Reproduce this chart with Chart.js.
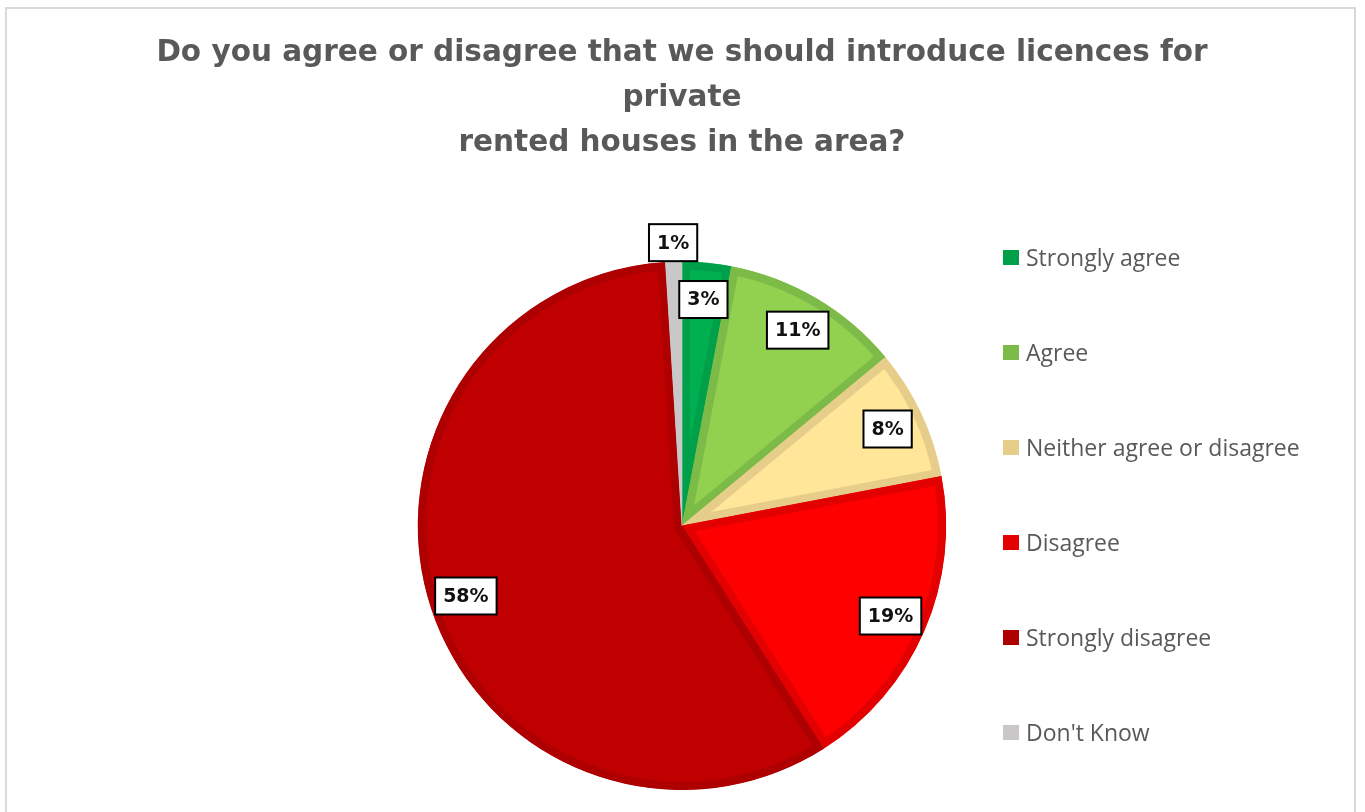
<!DOCTYPE html>
<html>
<head>
<meta charset="utf-8">
<title>Licences for private rented houses</title>
<script src="https://cdn.jsdelivr.net/npm/chart.js@4.4.0/dist/chart.umd.min.js"></script>
<style>
  html, body { margin: 0; padding: 0; background: #fff; }
  #wrap { position: relative; width: 1365px; height: 812px; overflow: hidden; }
  #pie { position: absolute; left: 0; top: 0; }
  #frame {
    position: absolute; left: 5px; top: 7px; width: 1351px; height: 840px;
    border: 2px solid #D9D9D9; pointer-events: none; box-sizing: border-box;
  }
  #legend { position: absolute; left: 1003px; top: 0; font-family: "Open Sans", sans-serif; }
  .item { position: absolute; left: 0; height: 30px; display: flex; align-items: center; white-space: nowrap; }
  .swatch { width: 16px; height: 15px; margin-right: 7px; }
  .item span { font-size: 23px; color: #595959; }
</style>
</head>
<body>
<div id="wrap">
  <canvas id="pie" width="1365" height="812"></canvas>
  <div id="frame"></div>
  <div id="legend"></div>
</div>
<script>
// Survey answers, percent of respondents
const answers = ["Strongly agree", "Agree", "Neither agree or disagree", "Disagree", "Strongly disagree", "Don't Know"];
const shares = [3, 11, 8, 19, 58, 1];

const fillColors = ["#00B050", "#92D050", "#FFE699", "#FF0000", "#C00000", "#D0CECE"];
const edgeColors = ["#00A04A", "#7DBB48", "#E6CE8A", "#E30000", "#AE0000", "#C9C7C7"];

const titleLines = [
  "Do you agree or disagree that we should introduce licences for",
  "private",
  "rented houses in the area?"
];

// Boxed percentage labels; tiny slices get their label pushed outside the pie
const boxedLabels = {
  id: "boxedLabels",
  afterDatasetsDraw(chart) {
    const ctx = chart.ctx;
    const meta = chart.getDatasetMeta(0);
    ctx.save();
    ctx.font = "bold 19px 'DejaVu Sans', sans-serif";
    ctx.textAlign = "center";
    ctx.textBaseline = "middle";
    meta.data.forEach((arc, i) => {
      const p = arc.getProps(["x", "y", "startAngle", "endAngle", "outerRadius"], true);
      const mid = (p.startAngle + p.endAngle) / 2;
      const r = shares[i] < 2 ? p.outerRadius + 19 : p.outerRadius * 0.86;
      const cx = p.x + Math.cos(mid) * r;
      const cy = p.y + Math.sin(mid) * r;
      const text = shares[i] + "%";
      const w = ctx.measureText(text).width + 16;
      const h = 37;
      ctx.fillStyle = "#fff";
      ctx.fillRect(cx - w / 2, cy - h / 2, w, h);
      ctx.lineWidth = 2;
      ctx.strokeStyle = "#000";
      ctx.strokeRect(cx - w / 2, cy - h / 2, w, h);
      ctx.fillStyle = "#111";
      ctx.fillText(text, cx, cy + 1);
    });
    ctx.restore();
  }
};

new Chart(document.getElementById("pie"), {
  type: "pie",
  data: {
    labels: answers,
    datasets: [{
      data: shares,
      backgroundColor: fillColors,
      borderColor: edgeColors,
      borderWidth: 8,
      borderAlign: "inner"
    }]
  },
  options: {
    responsive: false,
    animation: false,
    devicePixelRatio: 1,
    layout: { padding: { top: 0, bottom: 22, left: 0, right: 1 } },
    plugins: {
      legend: { display: false },
      tooltip: { enabled: false },
      title: {
        display: true,
        text: titleLines,
        color: "#595959",
        font: { family: "'DejaVu Sans', sans-serif", size: 29.5, weight: "bold", lineHeight: 1.52 },
        padding: { top: 31, bottom: 96 }
      }
    }
  },
  plugins: [boxedLabels]
});

// Legend on the right, one row per answer
const legend = document.getElementById("legend");
answers.forEach((name, i) => {
  const row = document.createElement("div");
  row.className = "item";
  row.style.top = (257 + i * 95 - 15) + "px";
  row.innerHTML = '<div class="swatch" style="background:' + edgeColors[i] + '"></div><span>' + name + '</span>';
  legend.appendChild(row);
});
</script>
</body>
</html>
